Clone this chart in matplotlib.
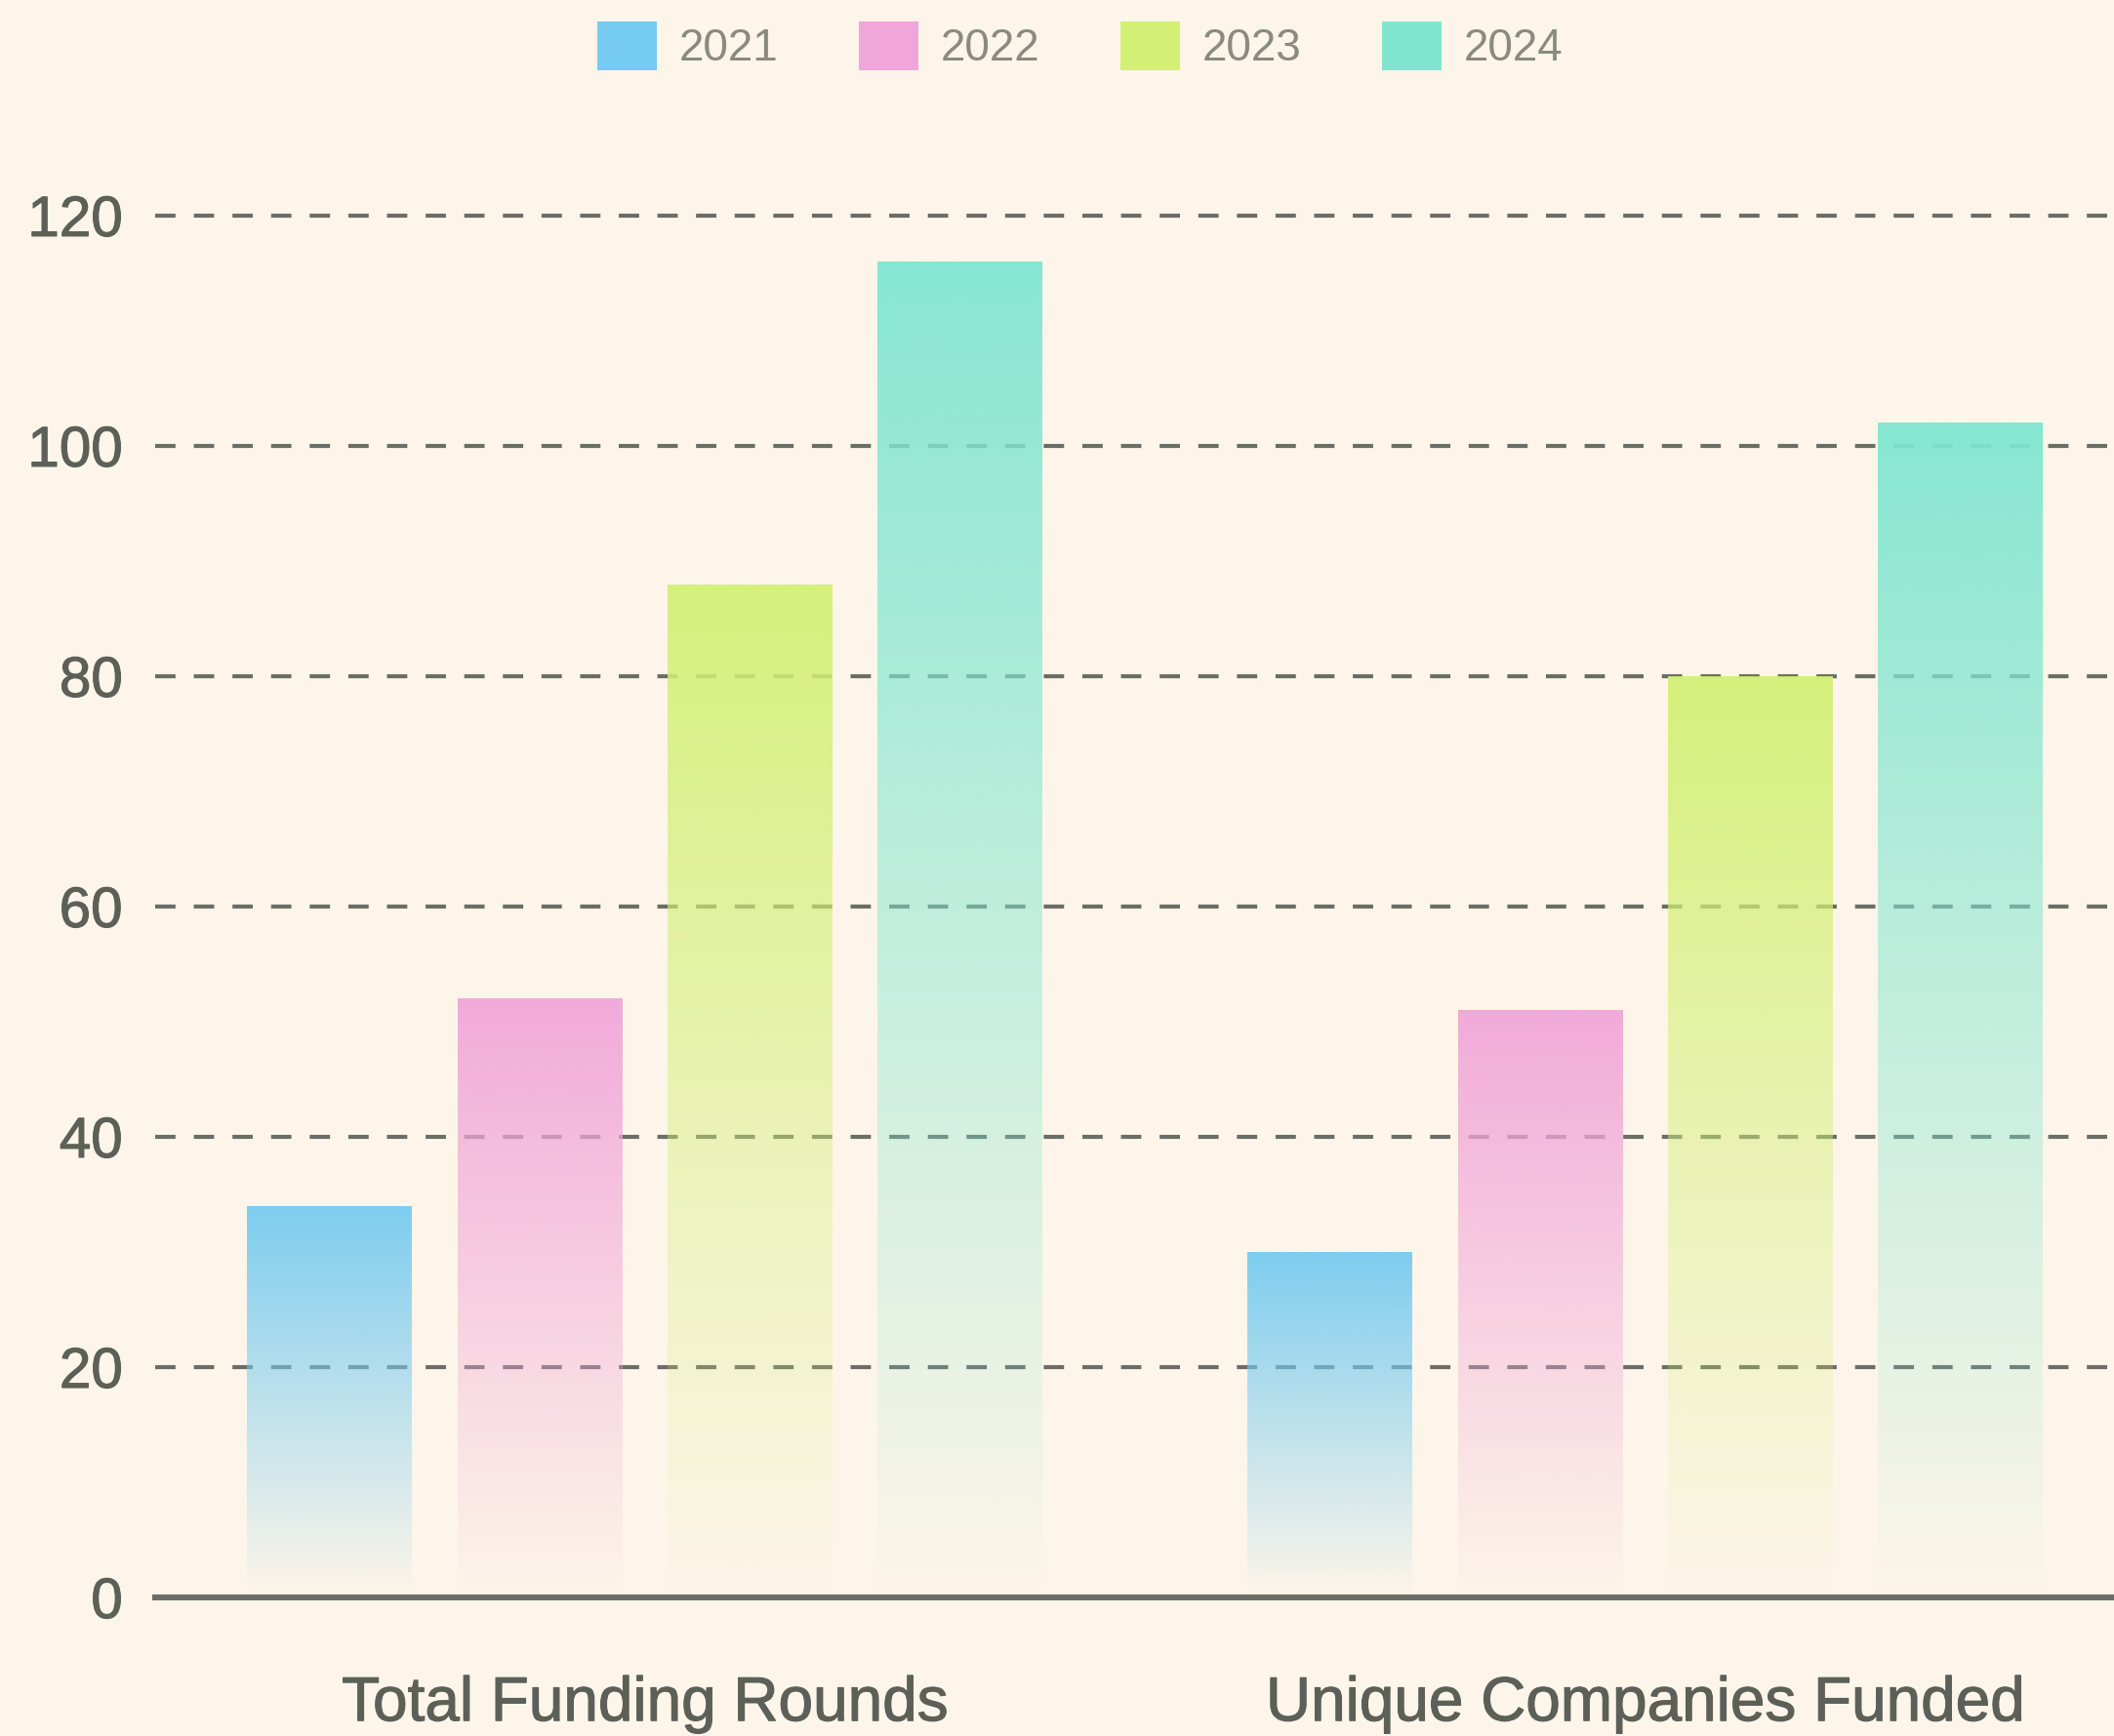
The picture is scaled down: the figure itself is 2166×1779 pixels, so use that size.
import numpy as np
import matplotlib
matplotlib.use("Agg")
import matplotlib.pyplot as plt
import matplotlib.patheffects as pe
from matplotlib.patches import Patch
from matplotlib.colors import to_rgb

# data
categories = ['Total Funding Rounds', 'Unique Companies Funded']
years = ['2021', '2022', '2023', '2024']
v2021 = [34, 30]
v2022 = [52, 51]
v2023 = [88, 80]
v2024 = [116, 102]
colors = ['#76cbf0', '#f1a6d9', '#d3f075', '#80e6d0']

bg = '#fdf5e9'
ink = '#5d6058'
gridc = '#6b6e66'

plt.rcParams['font.family'] = ['Liberation Sans', 'DejaVu Sans']

fig = plt.figure(figsize=(10.83, 8.895), dpi=200, facecolor=bg)
ax = fig.add_axes([0.0734, 0.0798, 1 - 0.0734, 0.909 - 0.0798])
ax.set_facecolor(bg)

series = [v2021, v2022, v2023, v2024]
x = np.arange(len(categories))
width = 0.164
step = 0.21
offsets = (np.arange(4) - 1.5) * step

# gradient: strong at top, fades to background at bottom
alpha = np.linspace(0.0, 0.95, 256)[:, None]

for i, vals in enumerate(series):
    bars = ax.bar(x + offsets[i], vals, width, color='none', zorder=3)
    rgb = to_rgb(colors[i])
    img = np.zeros((256, 1, 4))
    img[..., 0], img[..., 1], img[..., 2] = rgb
    img[..., 3] = alpha
    for b in bars:
        im = ax.imshow(img, extent=[b.get_x(), b.get_x() + b.get_width(), 0, b.get_height()],
                       origin='lower', aspect='auto', zorder=3, interpolation='bilinear')
        im.set_clip_path(b)

ax.set_xlim(-0.489, 1.469)
ax.set_ylim(0, 125)
ax.set_yticks(np.arange(0, 121, 20))
ax.set_xticks(x)
ax.set_xticklabels(categories)

ax.yaxis.grid(True, color=gridc, lw=1.5, linestyle=(0, (5, 4.5)), zorder=1)
ax.set_axisbelow(True)
for s in ['top', 'right', 'left']:
    ax.spines[s].set_visible(False)
ax.spines['bottom'].set_color(gridc)
ax.spines['bottom'].set_linewidth(2.2)
ax.spines['bottom'].set_zorder(4)

ax.tick_params(axis='y', length=0, pad=12, labelsize=21, labelcolor=ink)
ax.tick_params(axis='x', length=0, pad=28.5, labelsize=23, labelcolor=ink)
# slightly heavier weight, like a medium cut
for lab in ax.get_xticklabels() + ax.get_yticklabels():
    lab.set_path_effects([pe.withStroke(linewidth=0.4, foreground=ink)])

handles = [Patch(facecolor=c, edgecolor='none') for c in colors]
fig.legend(handles, years, loc='center', bbox_to_anchor=(0.511, 0.9736), ncol=4,
           frameon=False, fontsize=16.5, labelcolor='#8a8a80',
           handlelength=1.33, handleheight=1.33, handletextpad=0.5, columnspacing=1.8)

fig.savefig('out.png', dpi=200, facecolor=bg)
